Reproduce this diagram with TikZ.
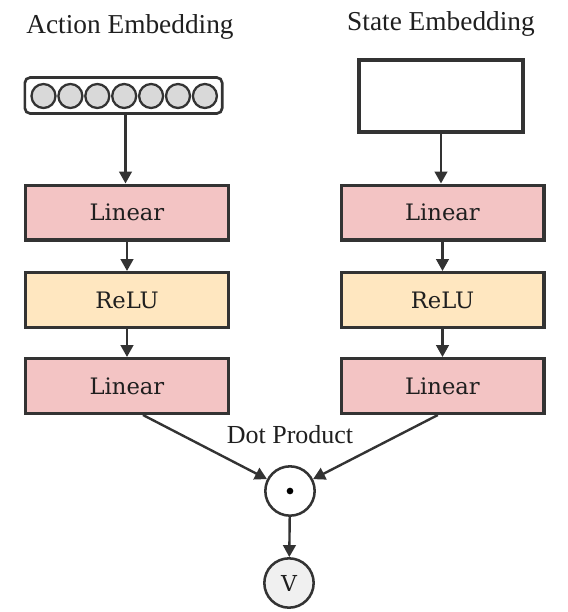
\documentclass[tikz,border=0pt]{standalone}
\usepackage{fontspec}
\setmainfont{Liberation Serif}
\newfontfamily\slabfont{DejaVu Serif}
\usetikzlibrary{arrows.meta,calc}

\definecolor{edge}{HTML}{333333}
\definecolor{linfill}{HTML}{F3C4C4}
\definecolor{relufill}{HTML}{FFE7C0}
\definecolor{unitfill}{HTML}{D9D9D9}
\definecolor{outfill}{HTML}{F0F0F0}

\tikzset{
  layer/.style={draw=edge, line width=2.5pt, minimum width=152pt, minimum height=41pt,
    inner sep=0pt, font=\slabfont\fontsize{17pt}{20pt}\selectfont, text=black!88},
  linbox/.style={layer, fill=linfill},
  relubox/.style={layer, fill=relufill},
  title/.style={font=\fontsize{20.5pt}{24pt}\selectfont, text=black!88, inner sep=0pt},
  flow/.style={draw=edge, line width=1.8pt, -{Triangle[length=9pt,width=9.5pt]}},
  unit/.style={circle, draw=edge, line width=1.7pt, fill=unitfill, minimum size=18pt, inner sep=0pt},
  opnode/.style={circle, draw=edge, line width=1.9pt, minimum size=37pt, inner sep=0pt}
}

\begin{document}
\begin{tikzpicture}[x=0.75pt, y=-0.75pt]
\useasboundingbox (0,0) rectangle (568,612);

% titles
\node[title] (tA) at (130,27) {Action Embedding};
\node[title] (tS) at (441,24) {State Embedding};

% action embedding: row of units in a rounded frame
\node[draw=edge, line width=2pt, rounded corners=4pt, fill=white,
      minimum width=148pt, minimum height=27pt, inner sep=0pt] (act) at (123.5,95.5) {};
\foreach \i in {0,...,6}
  \node[unit] (u\i) at (43.5+26.9*\i,96) {};

% state embedding
\node[draw=edge, line width=2.5pt, fill=white, minimum width=123pt, minimum height=54pt,
      inner sep=0pt] (st) at (441,96) {};

% left tower
\node[linbox]  (la1) at (127,212.5) {Linear};
\node[relubox] (la2) at (127,300)   {ReLU};
\node[linbox]  (la3) at (127,386)   {Linear};

% right tower
\node[linbox]  (lb1) at (442.5,212.5) {Linear};
\node[relubox] (lb2) at (442.5,300)   {ReLU};
\node[linbox]  (lb3) at (442.5,386)   {Linear};

% combination
\node[opnode] (dot) at (290,491) {};
\fill[black] (dot.center) circle (2.5pt);
\node[opnode, fill=outfill, font=\slabfont\fontsize{16.5pt}{19pt}\selectfont, text=black!88] (val) at (289,583) {V};
\node[title, font=\fontsize{19.5pt}{23pt}\selectfont] (dp) at (290,435) {Dot Product};

% connectors
\draw[flow] ([xshift=1.5pt]act.south) -- ([xshift=1.5pt]act.south |- la1.north);
\draw[flow] (st.south) -- (st.south |- lb1.north);
\draw[flow] (la1) -- (la2);
\draw[flow] (la2) -- (la3);
\draw[flow] (lb1) -- (lb2);
\draw[flow] (lb2) -- (lb3);
\coordinate (sa) at ([xshift=12pt]la3.south);
\coordinate (sb) at ([xshift=-3.5pt]lb3.south);
\draw[flow] (sa) -- (dot);
\draw[flow] (sb) -- (dot);
\draw[flow] (dot) -- (val);
\end{tikzpicture}
\end{document}
